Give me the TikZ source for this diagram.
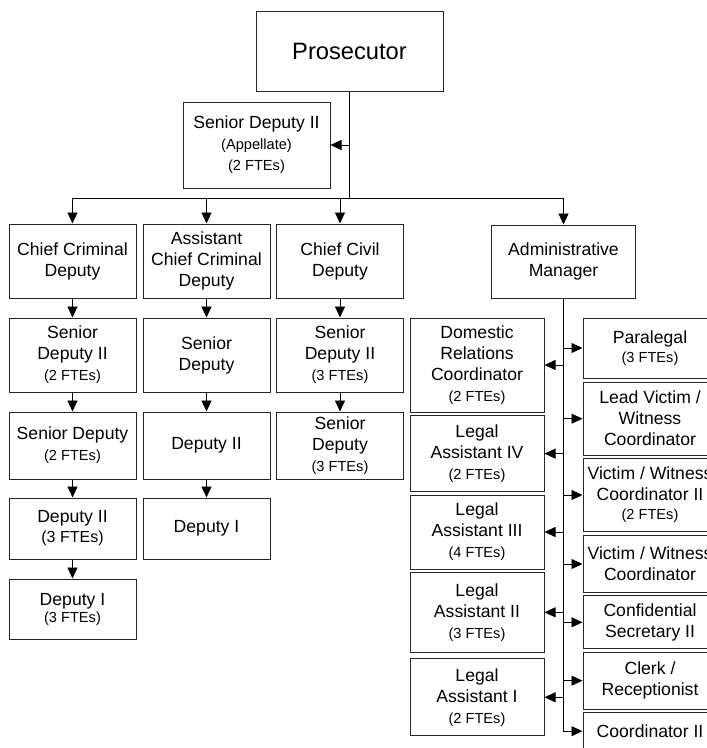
\documentclass[tikz,border=0pt]{standalone}
\usepackage{fontspec}
\setmainfont{Liberation Sans}
\usetikzlibrary{arrows.meta}
\newcommand\fte[1]{{\fontsize{14.6}{21}\selectfont #1}}
\tikzset{
  box/.style={draw=black!85, line width=1pt, fill=white, inner sep=0pt,
    align=center, text=black, font=\fontsize{17.6}{21}\selectfont},
  colbox/.style={box, minimum width=127pt},
  admbox/.style={box, minimum width=134pt},
  arr/.style={-{Triangle[length=11pt,width=10pt]}, line width=0.9pt, draw=black},
  link/.style={line width=0.9pt, draw=black}
}
\begin{document}
\begin{tikzpicture}[x=1pt, y=-1pt]
\useasboundingbox (0,0) rectangle (707,748);
\clip (0,0) rectangle (707,748);
\fill[white] (0,0) rectangle (707,748);

% top of the office
\node[box, minimum width=187pt, minimum height=80pt,
      font=\fontsize{23.7}{28}\selectfont] (pros) at (349.5,51) {Prosecutor};
\node[box, minimum width=147pt, minimum height=86pt] (sda) at (256.5,145)
  {Senior Deputy II\\\fte{(Appellate)}\\\fte{(2 FTEs)}};

% division heads
\node[colbox, minimum height=74pt] (ccd)  at (72.5,261)  {Chief Criminal\\Deputy};
\node[colbox, minimum height=74pt] (accd) at (206.5,261) {Assistant\\Chief Criminal\\Deputy};
\node[colbox, minimum height=74pt] (civ)  at (340,261)   {Chief Civil\\Deputy};
\node[box, minimum width=144pt, minimum height=73pt] (adm) at (563.5,261.5) {Administrative\\Manager};

% criminal column
\node[colbox, minimum height=74pt] (c1b) at (72.5,355)   {Senior\\Deputy II\\\fte{(2 FTEs)}};
\node[colbox, minimum height=67pt] (c1c) at (72.5,445.5) {Senior Deputy\\\fte{(2 FTEs)}};
\node[colbox, minimum height=61pt] (c1d) at (72.5,528.5) {Deputy II\\[-1pt]{\fontsize{16}{21}\selectfont (3 FTEs)}};
\node[colbox, minimum height=60pt] (c1e) at (72.5,609)   {Deputy I\\[-4pt]\fte{(3 FTEs)}};

% assistant criminal column
\node[colbox, minimum height=74pt] (c2b) at (206.5,355)   {Senior\\Deputy};
\node[colbox, minimum height=67pt] (c2c) at (206.5,445.5) {Deputy II};
\node[colbox, minimum height=61pt] (c2d) at (206.5,528.5) {Deputy I};

% civil column
\node[colbox, minimum height=74pt] (c3b) at (340,355)   {Senior\\Deputy II\\\fte{(3 FTEs)}};
\node[colbox, minimum height=67pt] (c3c) at (340,445.5) {Senior\\Deputy\\\fte{(3 FTEs)}};

% administration, left side
\node[admbox, minimum height=94pt]   (dom) at (477,365)   {Domestic\\Relations\\Coordinator\\\fte{(2 FTEs)}};
\node[admbox, minimum height=76pt]   (la4) at (477,453.6) {Legal\\Assistant IV\\\fte{(2 FTEs)}};
\node[admbox, minimum height=74pt]   (la3) at (477,532)   {Legal\\Assistant III\\\fte{(4 FTEs)}};
\node[admbox, minimum height=80pt]   (la2) at (477,612.3) {Legal\\Assistant II\\\fte{(3 FTEs)}};
\node[admbox, minimum height=76.7pt] (la1) at (477,697.3) {Legal\\Assistant I\\\fte{(2 FTEs)}};

% administration, right side
\node[admbox, minimum height=60pt]   (para)  at (650,348)   {Paralegal\\[-2pt]\fte{(3 FTEs)}};
\node[admbox, minimum height=72.7pt] (lvw)   at (650,418.7) {Lead Victim /\\Witness\\Coordinator};
\node[admbox, minimum height=73.4pt] (vw2)   at (650,495)   {Victim / Witness\\Coordinator II\\[-2pt]\fte{(2 FTEs)}};
\node[admbox, minimum height=56.6pt] (vw)    at (650,564)   {Victim / Witness\\Coordinator};
\node[admbox, minimum height=53.3pt] (cs2)   at (650,622.3) {Confidential\\Secretary II};
\node[admbox, minimum height=56.7pt] (clerk) at (650,680.7) {Clerk /\\Receptionist};
\node[admbox, minimum height=37.8pt] (co2)   at (650,731.2) {Coordinator II};

% reporting lines from the prosecutor
\coordinate (bus) at (349.5,198);
\draw[link] (pros.south) -- (bus);
\draw[arr] (pros.south |- sda.east) -- (sda.east);
\draw[arr] (bus) -| (ccd.north);
\draw[arr] (bus) -| (accd.north);
\draw[arr] (bus) -| (civ.north);
\draw[arr] (bus) -| (adm.north);

% chains down each deputy column
\draw[arr] (ccd.south) -- (c1b.north);
\draw[arr] (c1b.south) -- (c1c.north);
\draw[arr] (c1c.south) -- (c1d.north);
\draw[arr] (c1d.south) -- (c1e.north);
\draw[arr] (accd.south) -- (c2b.north);
\draw[arr] (c2b.south) -- (c2c.north);
\draw[arr] (c2c.south) -- (c2d.north);
\draw[arr] (civ.south) -- (c3b.north);
\draw[arr] (c3b.south) -- (c3c.north);

% administrative spine
\draw[arr] (adm.south) |- (co2.west);
\foreach \n in {dom,la4,la3,la2,la1}
  \draw[arr] (adm.south |- \n.east) -- (\n.east);
\foreach \n in {para,lvw,vw2,vw,cs2,clerk}
  \draw[arr] (adm.south |- \n.west) -- (\n.west);
\end{tikzpicture}
\end{document}
